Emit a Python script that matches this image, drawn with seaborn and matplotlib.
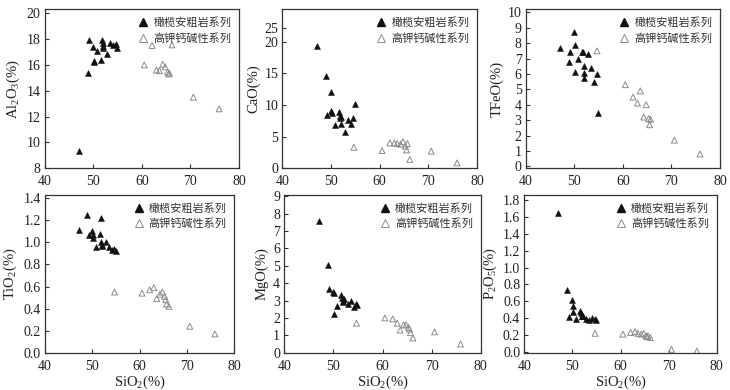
import numpy as np
import pandas as pd
import matplotlib
matplotlib.use("Agg")
import matplotlib.pyplot as plt
import seaborn as sns
from matplotlib.lines import Line2D

# ---------------- data ----------------
series_labels = ["橄榄安粗岩系列", "高钾钙碱性系列"]

sho_sio2 = [47.1, 48.9, 49.2, 50.0, 50.1, 50.2, 50.8, 51.6, 51.8, 51.9, 52.0, 52.1, 52.9, 53.5, 54.1, 54.6, 54.9]
hkca_sio2 = [54.7, 60.5, 62.1, 63.0, 63.6, 64.3, 64.8, 65.3, 65.5, 65.7, 66.2, 70.6, 75.9]

sho_al2o3 = [9.3, 15.4, 17.9, 17.4, 16.3, 16.2, 17.1, 16.35, 17.9, 17.7, 17.3, 17.45, 16.85, 17.7, 17.55, 17.65, 17.3]
hkca_al2o3 = [np.nan, 16.0, 17.5, 15.6, 15.55, 16.05, 15.85, 15.45, 15.3, 15.35, 17.55, 13.5, 12.6]

sho_cao = [19.3, 14.6, 8.4, 12.0, 9.1, 8.8, 6.8, 8.9, 8.3, 8.0, 8.1, 7.0, 5.7, 7.6, 7.0, 7.9, 10.2]
hkca_cao = [3.3, 2.8, 4.0, 4.0, 3.9, 3.8, 4.2, 3.5, 2.9, 3.9, 1.4, 2.7, 0.85]

sho_tfeo = [7.7, 6.75, 7.4, 8.75, 7.9, 6.1, 7.0, 7.45, 7.4, 5.75, 6.05, 6.5, 7.3, 6.4, 5.5, 6.0, 3.45]
hkca_tfeo = [7.5, 5.3, 4.5, 4.1, 4.9, 3.2, 4.0, 3.1, 2.7, 3.05, np.nan, 1.7, 0.8]

sho_tio2 = [1.11, 1.25, 1.07, 1.10, 1.07, 1.04, 0.96, 1.08, 1.22, 1.00, 0.98, 0.97, 1.00, 0.96, 0.93, 0.94, 0.92]
hkca_tio2 = [0.55, 0.54, 0.57, 0.59, 0.49, 0.53, 0.55, 0.51, 0.48, 0.44, 0.42, 0.24, 0.17]

sho_mgo = [7.6, 5.05, 3.65, 3.5, 3.45, 2.2, 2.7, 3.35, 3.15, 3.0, 2.9, 3.1, 2.8, 3.0, 2.65, 2.8, 2.75]
hkca_mgo = [1.7, 2.0, 1.95, 1.7, 1.3, 1.6, 1.6, 1.45, 1.35, 1.15, 0.85, 1.2, 0.5]

sho_p2o5 = [1.65, 0.73, 0.41, 0.61, 0.54, 0.47, 0.39, 0.48, 0.46, 0.43, 0.42, 0.42, 0.39, 0.38, 0.40, 0.39, 0.38]
hkca_p2o5 = [0.22, 0.21, 0.23, 0.24, 0.22, 0.21, 0.22, 0.19, 0.18, 0.19, 0.17, 0.03, 0.01]

x_ticks = [40, 50, 60, 70, 80]
al_ticks = [8, 10, 12, 14, 16, 18, 20]
cao_tick_pos = [0, 5, 10, 15, 20, 22.1]
cao_tick_labels = ["0", "5", "10", "15", "20", "25"]
tfeo_ticks = list(range(0, 11))
tio2_ticks = [0.0, 0.2, 0.4, 0.6, 0.8, 1.0, 1.2, 1.4]
mgo_ticks = list(range(0, 10))
p2o5_ticks = [0.0, 0.2, 0.4, 0.6, 0.8, 1.0, 1.2, 1.4, 1.6, 1.8]

y_labels = ["Al$_2$O$_3$(%)", "CaO(%)", "TFeO(%)", "TiO$_2$(%)", "MgO(%)", "P$_2$O$_5$(%)"]
x_label = "SiO$_2$(%)"

# ---------------- style ----------------
sns.set_theme(style="ticks")
plt.rcParams["font.family"] = ["Liberation Serif", "Noto Sans CJK SC"]
plt.rcParams["mathtext.fontset"] = "custom"
plt.rcParams["mathtext.rm"] = "Liberation Serif"
plt.rcParams["mathtext.it"] = "Liberation Serif:italic"

fig = plt.figure(figsize=(7.3, 3.9), dpi=100)
W, H = 730.0, 390.0

def ax_at(l, t, r, b):
    return fig.add_axes([l / W, 1 - b / H, (r - l) / W, (b - t) / H])

boxes = [
    (44.7, 9.3, 239.0, 168.3),
    (282.3, 9.3, 477.0, 168.3),
    (525.7, 9.3, 720.0, 168.3),
    (45.0, 195.0, 234.3, 352.7),
    (284.3, 195.0, 480.7, 352.7),
    (524.3, 195.0, 716.7, 352.7),
]

sho_sets = [sho_al2o3, sho_cao, sho_tfeo, sho_tio2, sho_mgo, sho_p2o5]
hk_sets = [hkca_al2o3, hkca_cao, hkca_tfeo, hkca_tio2, hkca_mgo, hkca_p2o5]
ylims = [(8, 20.3), (0, 25.1), (-0.13, 10.2), (0, 1.43), (0, 9.08), (-0.01, 1.86)]
yticks = [(al_ticks, [str(v) for v in al_ticks]),
          (cao_tick_pos, cao_tick_labels),
          (tfeo_ticks, [str(v) for v in tfeo_ticks]),
          (tio2_ticks, [f"{v:.1f}" for v in tio2_ticks]),
          (mgo_ticks, [str(v) for v in mgo_ticks]),
          (p2o5_ticks, [f"{v:.1f}" for v in p2o5_ticks])]

spine_c = "#333333"
for i in range(6):
    ax = ax_at(*boxes[i])
    df_s = pd.DataFrame({"x": sho_sio2, "y": sho_sets[i]}).dropna()
    df_h = pd.DataFrame({"x": hkca_sio2, "y": hk_sets[i]}).dropna()
    sns.scatterplot(data=df_h, x="x", y="y", ax=ax, marker="^", s=18,
                    facecolor="none", edgecolor="#8c8c8c", linewidth=0.7, legend=False)
    sns.scatterplot(data=df_s, x="x", y="y", ax=ax, marker="^", s=18,
                    color="#111111", edgecolor="#111111", linewidth=0.4, legend=False)
    ax.set_xlim(40, 80)
    ax.set_ylim(*ylims[i])
    ax.set_xticks(x_ticks)
    ax.set_xticklabels([str(v) for v in x_ticks])
    ax.set_yticks(yticks[i][0])
    ax.set_yticklabels(yticks[i][1])
    ax.tick_params(direction="in", length=3, width=0.8, labelsize=10,
                   colors=spine_c, labelcolor="#222222")
    ax.tick_params(axis="x", pad=5)
    ax.tick_params(axis="y", pad=3)
    for sp in ax.spines.values():
        sp.set_visible(True)
        sp.set_color(spine_c)
        sp.set_linewidth(0.9)
    ax.set_ylabel(y_labels[i], fontsize=10.5, color="#222222", labelpad=3)
    if i >= 3:
        ax.set_xlabel(x_label, fontsize=10.5, color="#222222", labelpad=1)
    else:
        ax.set_xlabel("")
    handles = [
        Line2D([], [], marker="^", linestyle="none", markersize=5.5,
               markerfacecolor="#111111", markeredgecolor="#111111"),
        Line2D([], [], marker="^", linestyle="none", markersize=5.5,
               markerfacecolor="none", markeredgecolor="#8c8c8c", markeredgewidth=0.7),
    ]
    leg = ax.legend(handles, series_labels, loc="upper right", frameon=False,
                    handletextpad=0.4, borderaxespad=0.3,
                    labelspacing=0.45, handlelength=1.0,
                    prop={"family": ["Noto Sans CJK SC"], "size": 8})
    for t in leg.get_texts():
        t.set_color("#333333")

fig.savefig("out.png", dpi=100)
